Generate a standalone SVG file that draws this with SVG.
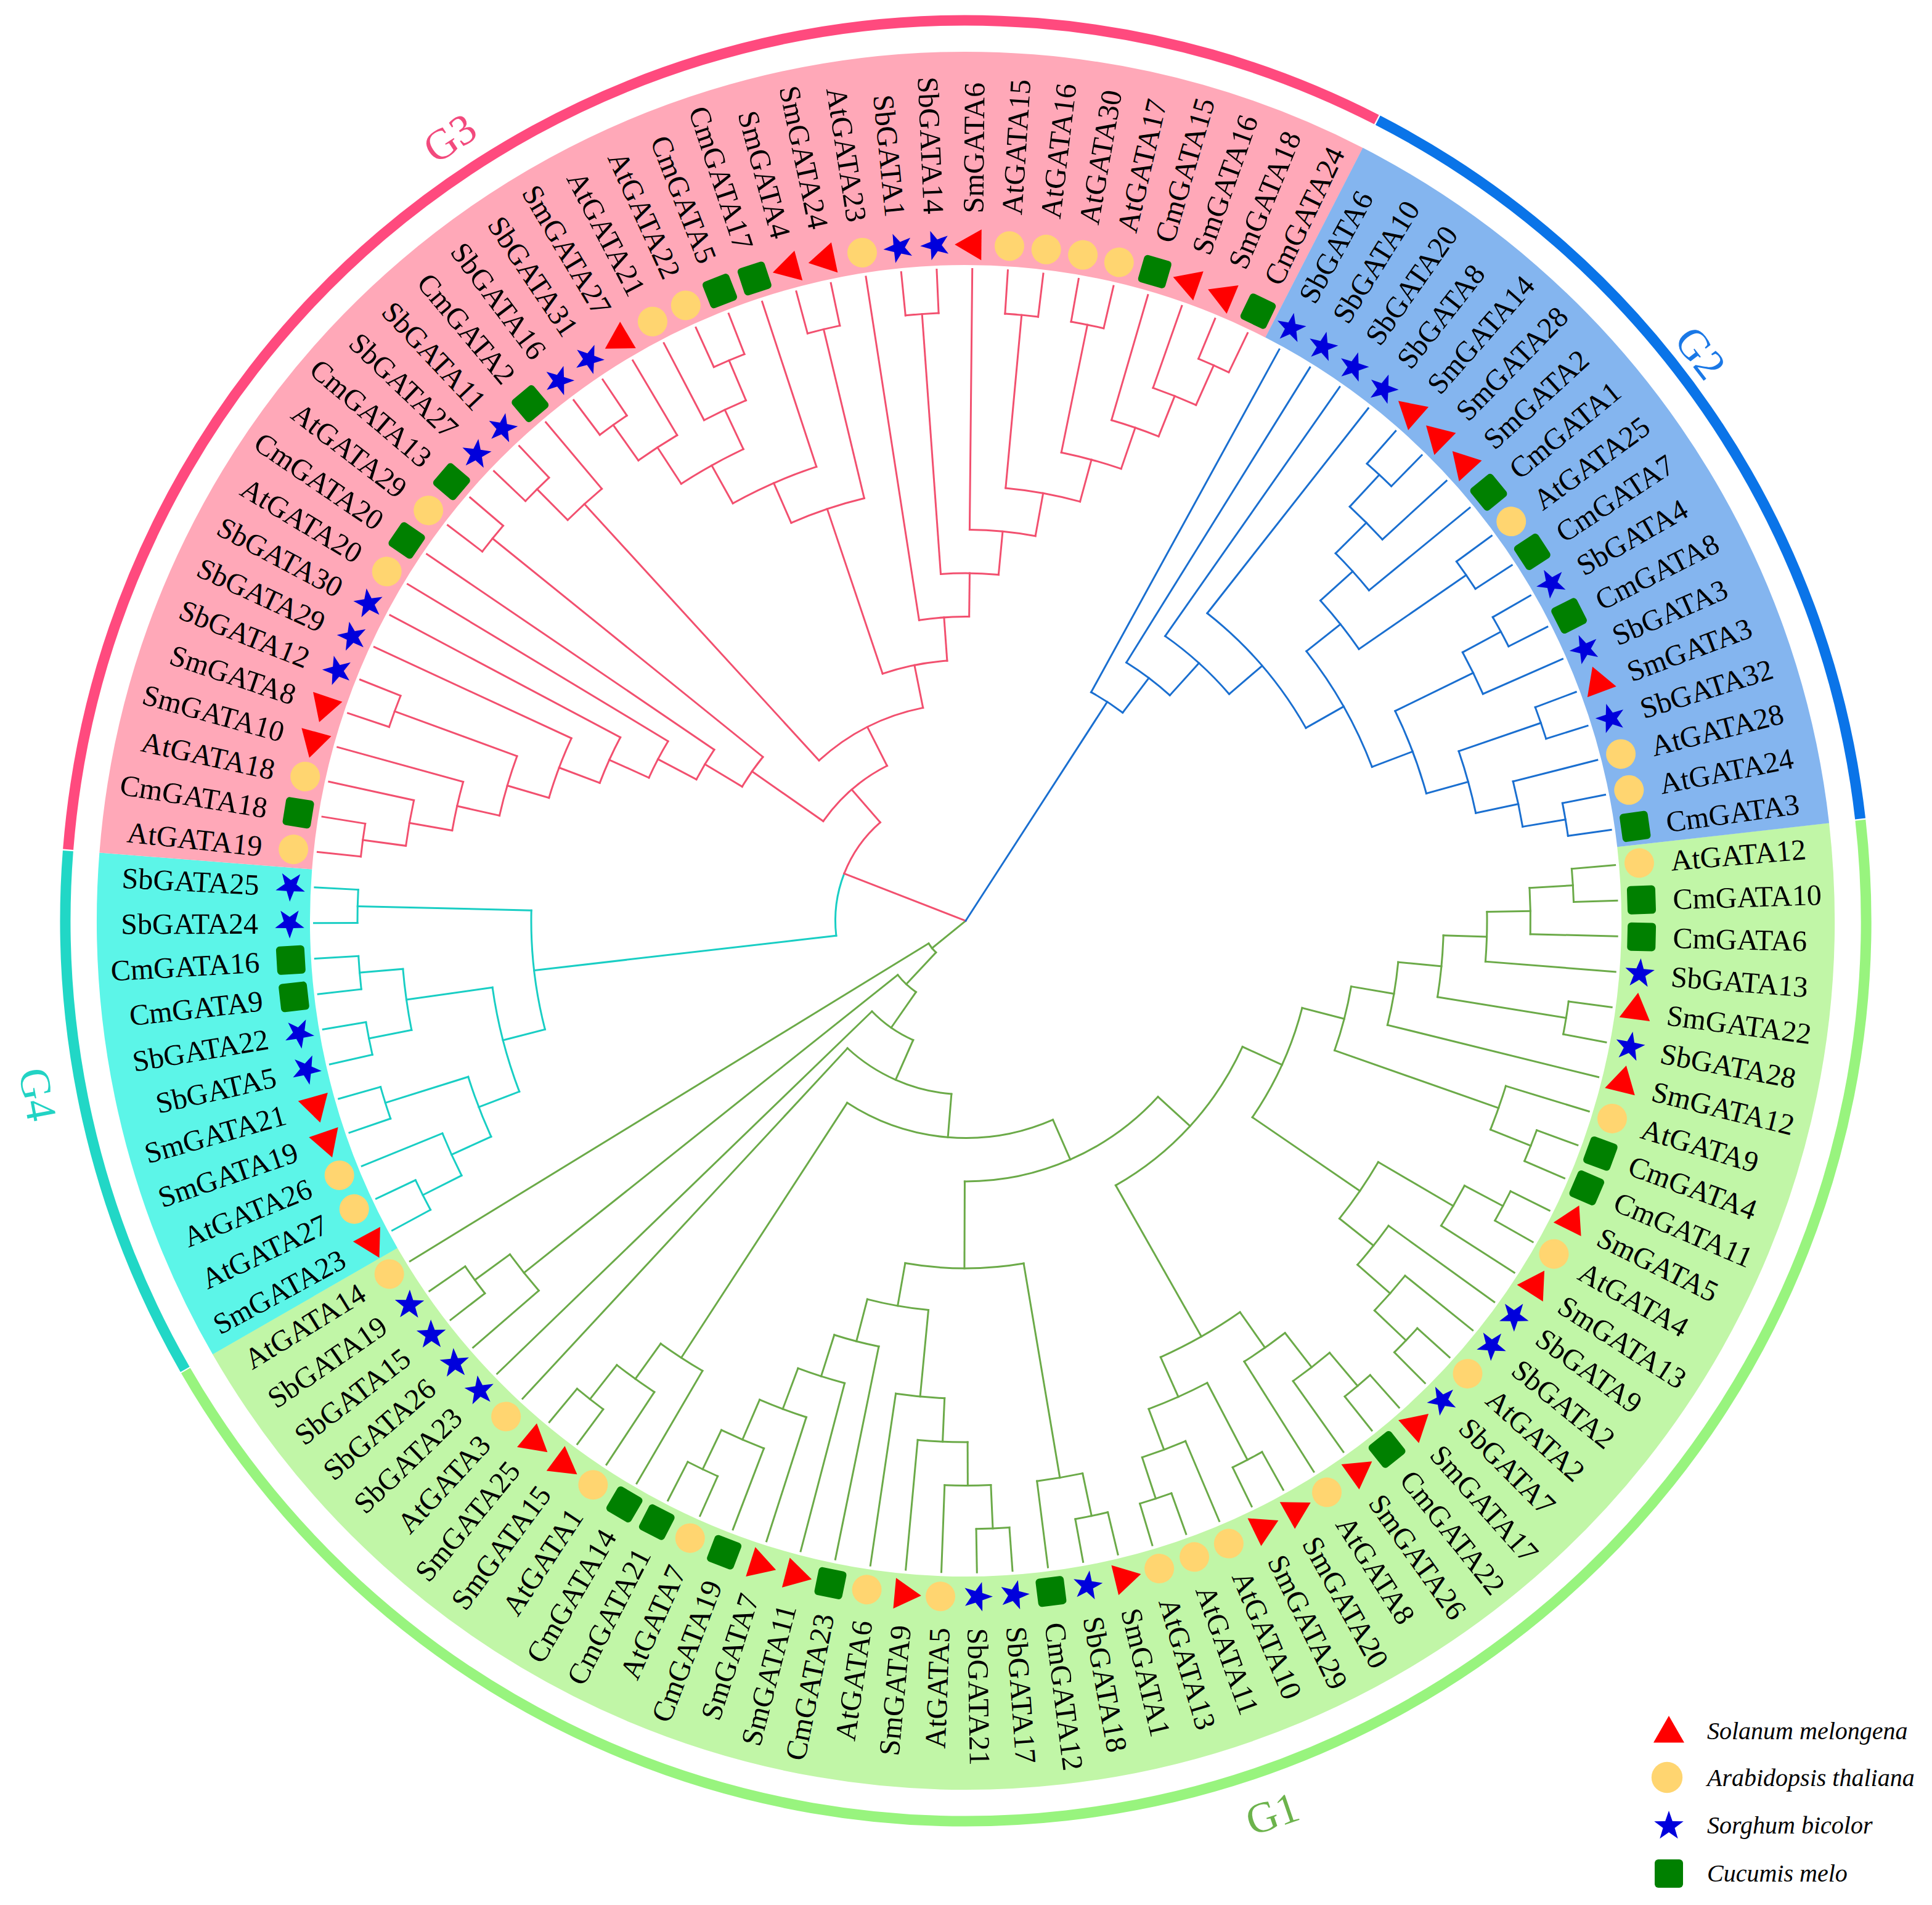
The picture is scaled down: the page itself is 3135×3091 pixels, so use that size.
<svg xmlns="http://www.w3.org/2000/svg" xmlns:xlink="http://www.w3.org/1999/xlink" width="3135" height="3091" viewBox="0 0 3135 3091">
<style>
.lv text{font-family:"Liberation Serif","Times New Roman",serif;font-size:48px;fill:#000}
.e{text-anchor:end}
.tr line,.tr circle{fill:none;stroke-width:3;stroke-linecap:square}
.c1{stroke:#6BAA48}.c2{stroke:#1A6FD0}.c3{stroke:#F2506F}.c4{stroke:#19CEC4}
.gl{font-family:"Liberation Serif","Times New Roman",serif;font-size:70px;text-anchor:middle}
.lg{font-family:"Liberation Serif","Times New Roman",serif;font-size:40px;font-style:italic;fill:#000}
.band{fill:none;stroke-width:346}
.ring{fill:none;stroke-width:17}
</style>
<defs>
<path id="tri" d="M0,-28.9L25,14.4L-25,14.4Z" fill="#FF0000"/>
<circle id="ci" r="24" fill="#FFD570"/>
<path id="st" d="M0,-25L5.88,-8.09L23.78,-7.73L9.51,3.09L14.69,20.23L0,10L-14.69,20.23L-9.51,3.09L-23.78,-7.73L-5.88,-8.09Z" fill="#0000DC"/>
<rect id="sq" x="-23" y="-23" width="46" height="46" rx="6" fill="#008000"/>
</defs>
<rect width="3135" height="3091" fill="#fff"/>
<g transform="translate(1567,1494)">
<g id="bands">
<circle class="band" r="1237" stroke="#C1F6A7" transform="rotate(-6.465)" stroke-dasharray="3379.4 99999"/>
<circle class="band" r="1237" stroke="#5CF5E8" transform="rotate(150.065)" stroke-dasharray="743.3 99999"/>
<circle class="band" r="1237" stroke="#FFA8B8" transform="rotate(184.495)" stroke-dasharray="2433.2 99999"/>
<circle class="band" r="1237" stroke="#84B5EF" transform="rotate(297.195)" stroke-dasharray="1216.4 99999"/>
</g>
<g id="rings">
<circle class="ring" r="1461" stroke="#98F47E" transform="rotate(-6.415)" stroke-dasharray="3988.9 99999"/>
<circle class="ring" r="1461" stroke="#21D7C6" transform="rotate(150.115)" stroke-dasharray="875.4 99999"/>
<circle class="ring" r="1461" stroke="#FF4A7E" transform="rotate(184.545)" stroke-dasharray="2871.2 99999"/>
<circle class="ring" r="1461" stroke="#0A74E8" transform="rotate(297.245)" stroke-dasharray="1434.1 99999"/>
</g>
<g id="group-labels" class="gl">
<text fill="#F24A7D" transform="rotate(326.6)" x="0" y="-1522" dy=".35em">G3</text>
<text fill="#1A78E6" transform="rotate(52.3)" x="0" y="-1508" dy=".35em">G2</text>
<text fill="#6CB34C" transform="rotate(-18.95)" x="0" y="1531" dy=".35em">G1</text>
<text fill="#22D3C4" transform="rotate(79.4)" x="0" y="1531" dy=".35em">G4</text>
</g>
<g id="connectors" class="tr">
<g id="branches-G1" class="c1">
<circle r="987" transform="rotate(-4.9)" stroke-dasharray="53.9 9999"/>
<circle r="916.5" transform="rotate(-3.335)" stroke-dasharray="75.1 9999"/>
<circle r="846" transform="rotate(-0.99)" stroke-dasharray="80.91 9999"/>
<circle r="987" transform="rotate(7.62)" stroke-dasharray="53.9 9999"/>
<circle r="775.5" transform="rotate(1.75)" stroke-dasharray="100.63 9999"/>
<circle r="705" transform="rotate(5.47)" stroke-dasharray="103.48 9999"/>
<circle r="987" transform="rotate(20.14)" stroke-dasharray="53.9 9999"/>
<circle r="916.5" transform="rotate(17.01)" stroke-dasharray="75.1 9999"/>
<circle r="634.5" transform="rotate(9.675)" stroke-dasharray="107.25 9999"/>
<circle r="987" transform="rotate(26.4)" stroke-dasharray="53.9 9999"/>
<circle r="916.5" transform="rotate(27.965)" stroke-dasharray="75.26 9999"/>
<circle r="987" transform="rotate(42.06)" stroke-dasharray="53.9 9999"/>
<circle r="916.5" transform="rotate(38.93)" stroke-dasharray="75.1 9999"/>
<circle r="846" transform="rotate(35.8)" stroke-dasharray="80.91 9999"/>
<circle r="775.5" transform="rotate(30.32)" stroke-dasharray="111.26 9999"/>
<circle r="564" transform="rotate(14.52)" stroke-dasharray="195.99 9999"/>
<circle r="987" transform="rotate(48.32)" stroke-dasharray="53.9 9999"/>
<circle r="916.5" transform="rotate(49.885)" stroke-dasharray="75.1 9999"/>
<circle r="846" transform="rotate(52.23)" stroke-dasharray="80.91 9999"/>
<circle r="987" transform="rotate(60.84)" stroke-dasharray="53.9 9999"/>
<circle r="987" transform="rotate(70.23)" stroke-dasharray="53.9 9999"/>
<circle r="916.5" transform="rotate(67.1)" stroke-dasharray="75.1 9999"/>
<circle r="846" transform="rotate(62.405)" stroke-dasharray="104.02 9999"/>
<circle r="775.5" transform="rotate(54.97)" stroke-dasharray="148.34 9999"/>
<circle r="493.5" transform="rotate(24.475)" stroke-dasharray="309.86 9999"/>
<circle r="987" transform="rotate(76.49)" stroke-dasharray="53.9 9999"/>
<circle r="916.5" transform="rotate(78.055)" stroke-dasharray="75.1 9999"/>
<circle r="987" transform="rotate(85.88)" stroke-dasharray="53.9 9999"/>
<circle r="916.5" transform="rotate(87.445)" stroke-dasharray="75.1 9999"/>
<circle r="846" transform="rotate(89.79)" stroke-dasharray="81.06 9999"/>
<circle r="775.5" transform="rotate(92.535)" stroke-dasharray="79.52 9999"/>
<circle r="987" transform="rotate(114.06)" stroke-dasharray="53.9 9999"/>
<circle r="916.5" transform="rotate(110.93)" stroke-dasharray="75.1 9999"/>
<circle r="846" transform="rotate(107.8)" stroke-dasharray="80.91 9999"/>
<circle r="775.5" transform="rotate(104.67)" stroke-dasharray="79.45 9999"/>
<circle r="705" transform="rotate(101.54)" stroke-dasharray="74.63 9999"/>
<circle r="634.5" transform="rotate(95.47)" stroke-dasharray="100.77 9999"/>
<circle r="564" transform="rotate(80.4)" stroke-dasharray="193.13 9999"/>
<circle r="423" transform="rotate(42.46)" stroke-dasharray="352.52 9999"/>
<circle r="987" transform="rotate(126.58)" stroke-dasharray="53.9 9999"/>
<circle r="916.5" transform="rotate(123.45)" stroke-dasharray="75.1 9999"/>
<circle r="846" transform="rotate(120.32)" stroke-dasharray="80.91 9999"/>
<circle r="352.5" transform="rotate(66.335)" stroke-dasharray="348.99 9999"/>
<circle r="282" transform="rotate(94.7)" stroke-dasharray="187.72 9999"/>
<circle r="211.5" transform="rotate(113.77)" stroke-dasharray="81.95 9999"/>
<circle r="987" transform="rotate(142.23)" stroke-dasharray="54.1 9999"/>
<circle r="916.5" transform="rotate(139.1)" stroke-dasharray="75.18 9999"/>
<circle r="141" transform="rotate(124.87)" stroke-dasharray="40.8 9999"/>
<circle r="70.5" transform="rotate(133.16)" stroke-dasharray="18.88 9999"/>
<line transform="rotate(-4.9)" x1="987" x2="1057.5"/>
<line transform="rotate(-1.77)" x1="987" x2="1057.5"/>
<line transform="rotate(1.36)" x1="916.5" x2="1057.5"/>
<line transform="rotate(4.49)" x1="846" x2="1057.5"/>
<line transform="rotate(7.62)" x1="987" x2="1057.5"/>
<line transform="rotate(10.75)" x1="987" x2="1057.5"/>
<line transform="rotate(13.88)" x1="705" x2="1057.5"/>
<line transform="rotate(17.01)" x1="916.5" x2="1057.5"/>
<line transform="rotate(20.14)" x1="987" x2="1057.5"/>
<line transform="rotate(23.27)" x1="987" x2="1057.5"/>
<line transform="rotate(26.4)" x1="987" x2="1057.5"/>
<line transform="rotate(29.53)" x1="987" x2="1057.5"/>
<line transform="rotate(32.67)" x1="916.5" x2="1057.5"/>
<line transform="rotate(35.8)" x1="846" x2="1057.5"/>
<line transform="rotate(38.93)" x1="916.5" x2="1057.5"/>
<line transform="rotate(42.06)" x1="987" x2="1057.5"/>
<line transform="rotate(45.19)" x1="987" x2="1057.5"/>
<line transform="rotate(48.32)" x1="987" x2="1057.5"/>
<line transform="rotate(51.45)" x1="987" x2="1057.5"/>
<line transform="rotate(54.58)" x1="916.5" x2="1057.5"/>
<line transform="rotate(57.71)" x1="846" x2="1057.5"/>
<line transform="rotate(60.84)" x1="987" x2="1057.5"/>
<line transform="rotate(63.97)" x1="987" x2="1057.5"/>
<line transform="rotate(67.1)" x1="916.5" x2="1057.5"/>
<line transform="rotate(70.23)" x1="987" x2="1057.5"/>
<line transform="rotate(73.36)" x1="987" x2="1057.5"/>
<line transform="rotate(76.49)" x1="987" x2="1057.5"/>
<line transform="rotate(79.62)" x1="987" x2="1057.5"/>
<line transform="rotate(82.75)" x1="916.5" x2="1057.5"/>
<line transform="rotate(85.88)" x1="987" x2="1057.5"/>
<line transform="rotate(89.01)" x1="987" x2="1057.5"/>
<line transform="rotate(92.14)" x1="916.5" x2="1057.5"/>
<line transform="rotate(95.28)" x1="846" x2="1057.5"/>
<line transform="rotate(98.41)" x1="775.5" x2="1057.5"/>
<line transform="rotate(101.54)" x1="705" x2="1057.5"/>
<line transform="rotate(104.67)" x1="775.5" x2="1057.5"/>
<line transform="rotate(107.8)" x1="846" x2="1057.5"/>
<line transform="rotate(110.93)" x1="916.5" x2="1057.5"/>
<line transform="rotate(114.06)" x1="987" x2="1057.5"/>
<line transform="rotate(117.19)" x1="987" x2="1057.5"/>
<line transform="rotate(120.32)" x1="846" x2="1057.5"/>
<line transform="rotate(123.45)" x1="916.5" x2="1057.5"/>
<line transform="rotate(126.58)" x1="987" x2="1057.5"/>
<line transform="rotate(129.71)" x1="987" x2="1057.5"/>
<line transform="rotate(132.84)" x1="282" x2="1057.5"/>
<line transform="rotate(135.97)" x1="211.5" x2="1057.5"/>
<line transform="rotate(139.1)" x1="916.5" x2="1057.5"/>
<line transform="rotate(142.23)" x1="987" x2="1057.5"/>
<line transform="rotate(145.37)" x1="987" x2="1057.5"/>
<line transform="rotate(148.5)" x1="70.5" x2="1057.5"/>
<line transform="rotate(-3.335)" x1="916.5" x2="987"/>
<line transform="rotate(-0.99)" x1="846" x2="916.5"/>
<line transform="rotate(1.75)" x1="775.5" x2="846"/>
<line transform="rotate(9.185)" x1="775.5" x2="987"/>
<line transform="rotate(5.47)" x1="705" x2="775.5"/>
<line transform="rotate(9.675)" x1="634.5" x2="705"/>
<line transform="rotate(21.705)" x1="916.5" x2="987"/>
<line transform="rotate(19.36)" x1="634.5" x2="916.5"/>
<line transform="rotate(14.52)" x1="564" x2="634.5"/>
<line transform="rotate(27.965)" x1="916.5" x2="987"/>
<line transform="rotate(30.32)" x1="775.5" x2="916.5"/>
<line transform="rotate(43.625)" x1="916.5" x2="987"/>
<line transform="rotate(41.28)" x1="846" x2="916.5"/>
<line transform="rotate(38.54)" x1="775.5" x2="846"/>
<line transform="rotate(34.43)" x1="564" x2="775.5"/>
<line transform="rotate(24.475)" x1="493.5" x2="564"/>
<line transform="rotate(49.885)" x1="916.5" x2="987"/>
<line transform="rotate(52.23)" x1="846" x2="916.5"/>
<line transform="rotate(54.97)" x1="775.5" x2="846"/>
<line transform="rotate(62.405)" x1="846" x2="987"/>
<line transform="rotate(71.795)" x1="916.5" x2="987"/>
<line transform="rotate(69.45)" x1="846" x2="916.5"/>
<line transform="rotate(65.93)" x1="775.5" x2="846"/>
<line transform="rotate(60.45)" x1="493.5" x2="775.5"/>
<line transform="rotate(42.46)" x1="423" x2="493.5"/>
<line transform="rotate(78.055)" x1="916.5" x2="987"/>
<line transform="rotate(80.4)" x1="564" x2="916.5"/>
<line transform="rotate(87.445)" x1="916.5" x2="987"/>
<line transform="rotate(89.79)" x1="846" x2="916.5"/>
<line transform="rotate(92.535)" x1="775.5" x2="846"/>
<line transform="rotate(95.47)" x1="634.5" x2="775.5"/>
<line transform="rotate(115.625)" x1="916.5" x2="987"/>
<line transform="rotate(113.28)" x1="846" x2="916.5"/>
<line transform="rotate(110.54)" x1="775.5" x2="846"/>
<line transform="rotate(107.605)" x1="705" x2="775.5"/>
<line transform="rotate(104.57)" x1="634.5" x2="705"/>
<line transform="rotate(100.02)" x1="564" x2="634.5"/>
<line transform="rotate(90.21)" x1="423" x2="564"/>
<line transform="rotate(66.335)" x1="352.5" x2="423"/>
<line transform="rotate(128.145)" x1="916.5" x2="987"/>
<line transform="rotate(125.8)" x1="846" x2="916.5"/>
<line transform="rotate(123.06)" x1="352.5" x2="846"/>
<line transform="rotate(94.7)" x1="282" x2="352.5"/>
<line transform="rotate(113.77)" x1="211.5" x2="282"/>
<line transform="rotate(124.87)" x1="141" x2="211.5"/>
<line transform="rotate(143.8)" x1="916.5" x2="987"/>
<line transform="rotate(141.45)" x1="141" x2="916.5"/>
<line transform="rotate(133.16)" x1="70.5" x2="141"/>
<line transform="rotate(140.83)" x1="0" x2="70.5"/>
</g>
<g id="branches-G4" class="c4">
<circle r="987" transform="rotate(151.63)" stroke-dasharray="53.9 9999"/>
<circle r="916.5" transform="rotate(153.195)" stroke-dasharray="75.1 9999"/>
<circle r="987" transform="rotate(161.02)" stroke-dasharray="53.9 9999"/>
<circle r="846" transform="rotate(155.54)" stroke-dasharray="104.02 9999"/>
<circle r="987" transform="rotate(167.28)" stroke-dasharray="53.9 9999"/>
<circle r="987" transform="rotate(173.54)" stroke-dasharray="53.9 9999"/>
<circle r="916.5" transform="rotate(168.845)" stroke-dasharray="100.13 9999"/>
<circle r="775.5" transform="rotate(159.06)" stroke-dasharray="174.8 9999"/>
<circle r="987" transform="rotate(179.8)" stroke-dasharray="53.9 9999"/>
<circle r="705" transform="rotate(165.52)" stroke-dasharray="194.97 9999"/>
<circle r="211.5" transform="rotate(173.44)" stroke-dasharray="102.58 9999"/>
<line transform="rotate(151.63)" x1="987" x2="1057.5"/>
<line transform="rotate(154.76)" x1="987" x2="1057.5"/>
<line transform="rotate(157.89)" x1="916.5" x2="1057.5"/>
<line transform="rotate(161.02)" x1="987" x2="1057.5"/>
<line transform="rotate(164.15)" x1="987" x2="1057.5"/>
<line transform="rotate(167.28)" x1="987" x2="1057.5"/>
<line transform="rotate(170.41)" x1="987" x2="1057.5"/>
<line transform="rotate(173.54)" x1="987" x2="1057.5"/>
<line transform="rotate(176.67)" x1="987" x2="1057.5"/>
<line transform="rotate(179.8)" x1="987" x2="1057.5"/>
<line transform="rotate(182.93)" x1="987" x2="1057.5"/>
<line transform="rotate(153.195)" x1="916.5" x2="987"/>
<line transform="rotate(155.54)" x1="846" x2="916.5"/>
<line transform="rotate(162.585)" x1="846" x2="987"/>
<line transform="rotate(159.06)" x1="775.5" x2="846"/>
<line transform="rotate(168.845)" x1="916.5" x2="987"/>
<line transform="rotate(175.105)" x1="916.5" x2="987"/>
<line transform="rotate(171.975)" x1="775.5" x2="916.5"/>
<line transform="rotate(165.52)" x1="705" x2="775.5"/>
<line transform="rotate(181.365)" x1="705" x2="987"/>
<line transform="rotate(173.44)" x1="211.5" x2="705"/>
</g>
<g id="branches-G3" class="c3">
<circle r="987" transform="rotate(186.06)" stroke-dasharray="53.9 9999"/>
<circle r="916.5" transform="rotate(187.625)" stroke-dasharray="75.1 9999"/>
<circle r="846" transform="rotate(189.97)" stroke-dasharray="80.91 9999"/>
<circle r="987" transform="rotate(198.58)" stroke-dasharray="53.9 9999"/>
<circle r="775.5" transform="rotate(192.71)" stroke-dasharray="100.63 9999"/>
<circle r="705" transform="rotate(196.43)" stroke-dasharray="103.48 9999"/>
<circle r="634.5" transform="rotate(200.635)" stroke-dasharray="81.23 9999"/>
<circle r="564" transform="rotate(204.3)" stroke-dasharray="66.94 9999"/>
<circle r="493.5" transform="rotate(207.7)" stroke-dasharray="56.24 9999"/>
<circle r="987" transform="rotate(217.37)" stroke-dasharray="53.9 9999"/>
<circle r="423" transform="rotate(210.965)" stroke-dasharray="58.84 9999"/>
<circle r="987" transform="rotate(223.63)" stroke-dasharray="53.9 9999"/>
<circle r="916.5" transform="rotate(225.195)" stroke-dasharray="75.1 9999"/>
<circle r="987" transform="rotate(233.02)" stroke-dasharray="53.9 9999"/>
<circle r="916.5" transform="rotate(234.585)" stroke-dasharray="75.1 9999"/>
<circle r="987" transform="rotate(245.54)" stroke-dasharray="53.9 9999"/>
<circle r="916.5" transform="rotate(242.41)" stroke-dasharray="75.1 9999"/>
<circle r="846" transform="rotate(236.93)" stroke-dasharray="115.61 9999"/>
<circle r="775.5" transform="rotate(240.845)" stroke-dasharray="148.28 9999"/>
<circle r="987" transform="rotate(254.93)" stroke-dasharray="53.9 9999"/>
<circle r="705" transform="rotate(246.32)" stroke-dasharray="125.2 9999"/>
<circle r="987" transform="rotate(264.32)" stroke-dasharray="53.9 9999"/>
<circle r="987" transform="rotate(273.71)" stroke-dasharray="53.9 9999"/>
<circle r="987" transform="rotate(279.98)" stroke-dasharray="53.9 9999"/>
<circle r="987" transform="rotate(292.5)" stroke-dasharray="53.9 9999"/>
<circle r="916.5" transform="rotate(289.37)" stroke-dasharray="75.1 9999"/>
<circle r="846" transform="rotate(286.24)" stroke-dasharray="80.91 9999"/>
<circle r="775.5" transform="rotate(281.545)" stroke-dasharray="100.63 9999"/>
<circle r="705" transform="rotate(275.275)" stroke-dasharray="122.86 9999"/>
<circle r="634.5" transform="rotate(270.58)" stroke-dasharray="107.31 9999"/>
<circle r="564" transform="rotate(265.885)" stroke-dasharray="93.91 9999"/>
<circle r="493.5" transform="rotate(261.19)" stroke-dasharray="81.52 9999"/>
<circle r="423" transform="rotate(251.41)" stroke-dasharray="107.12 9999"/>
<circle r="352.5" transform="rotate(227.54)" stroke-dasharray="191.49 9999"/>
<circle r="282" transform="rotate(214.95)" stroke-dasharray="138.55 9999"/>
<circle r="211.5" transform="rotate(201.23)" stroke-dasharray="102.6 9999"/>
<line transform="rotate(186.06)" x1="987" x2="1057.5"/>
<line transform="rotate(189.19)" x1="987" x2="1057.5"/>
<line transform="rotate(192.32)" x1="916.5" x2="1057.5"/>
<line transform="rotate(195.45)" x1="846" x2="1057.5"/>
<line transform="rotate(198.58)" x1="987" x2="1057.5"/>
<line transform="rotate(201.71)" x1="987" x2="1057.5"/>
<line transform="rotate(204.84)" x1="705" x2="1057.5"/>
<line transform="rotate(207.97)" x1="634.5" x2="1057.5"/>
<line transform="rotate(211.1)" x1="564" x2="1057.5"/>
<line transform="rotate(214.23)" x1="493.5" x2="1057.5"/>
<line transform="rotate(217.37)" x1="987" x2="1057.5"/>
<line transform="rotate(220.5)" x1="987" x2="1057.5"/>
<line transform="rotate(223.63)" x1="987" x2="1057.5"/>
<line transform="rotate(226.76)" x1="987" x2="1057.5"/>
<line transform="rotate(229.89)" x1="916.5" x2="1057.5"/>
<line transform="rotate(233.02)" x1="987" x2="1057.5"/>
<line transform="rotate(236.15)" x1="987" x2="1057.5"/>
<line transform="rotate(239.28)" x1="916.5" x2="1057.5"/>
<line transform="rotate(242.41)" x1="916.5" x2="1057.5"/>
<line transform="rotate(245.54)" x1="987" x2="1057.5"/>
<line transform="rotate(248.67)" x1="987" x2="1057.5"/>
<line transform="rotate(251.8)" x1="775.5" x2="1057.5"/>
<line transform="rotate(254.93)" x1="987" x2="1057.5"/>
<line transform="rotate(258.06)" x1="987" x2="1057.5"/>
<line transform="rotate(261.19)" x1="493.5" x2="1057.5"/>
<line transform="rotate(264.32)" x1="987" x2="1057.5"/>
<line transform="rotate(267.45)" x1="987" x2="1057.5"/>
<line transform="rotate(270.58)" x1="634.5" x2="1057.5"/>
<line transform="rotate(273.71)" x1="987" x2="1057.5"/>
<line transform="rotate(276.84)" x1="987" x2="1057.5"/>
<line transform="rotate(279.98)" x1="987" x2="1057.5"/>
<line transform="rotate(283.11)" x1="987" x2="1057.5"/>
<line transform="rotate(286.24)" x1="846" x2="1057.5"/>
<line transform="rotate(289.37)" x1="916.5" x2="1057.5"/>
<line transform="rotate(292.5)" x1="987" x2="1057.5"/>
<line transform="rotate(295.63)" x1="987" x2="1057.5"/>
<line transform="rotate(187.625)" x1="916.5" x2="987"/>
<line transform="rotate(189.97)" x1="846" x2="916.5"/>
<line transform="rotate(192.71)" x1="775.5" x2="846"/>
<line transform="rotate(200.145)" x1="775.5" x2="987"/>
<line transform="rotate(196.43)" x1="705" x2="775.5"/>
<line transform="rotate(200.635)" x1="634.5" x2="705"/>
<line transform="rotate(204.3)" x1="564" x2="634.5"/>
<line transform="rotate(207.7)" x1="493.5" x2="564"/>
<line transform="rotate(210.965)" x1="423" x2="493.5"/>
<line transform="rotate(218.935)" x1="423" x2="987"/>
<line transform="rotate(214.95)" x1="282" x2="423"/>
<line transform="rotate(225.195)" x1="916.5" x2="987"/>
<line transform="rotate(227.54)" x1="352.5" x2="916.5"/>
<line transform="rotate(234.585)" x1="916.5" x2="987"/>
<line transform="rotate(236.93)" x1="846" x2="916.5"/>
<line transform="rotate(247.105)" x1="916.5" x2="987"/>
<line transform="rotate(244.76)" x1="846" x2="916.5"/>
<line transform="rotate(240.845)" x1="775.5" x2="846"/>
<line transform="rotate(246.32)" x1="705" x2="775.5"/>
<line transform="rotate(256.495)" x1="705" x2="987"/>
<line transform="rotate(251.41)" x1="423" x2="705"/>
<line transform="rotate(265.885)" x1="564" x2="987"/>
<line transform="rotate(275.275)" x1="705" x2="987"/>
<line transform="rotate(281.545)" x1="775.5" x2="987"/>
<line transform="rotate(294.065)" x1="916.5" x2="987"/>
<line transform="rotate(291.72)" x1="846" x2="916.5"/>
<line transform="rotate(288.98)" x1="775.5" x2="846"/>
<line transform="rotate(285.26)" x1="705" x2="775.5"/>
<line transform="rotate(280.27)" x1="634.5" x2="705"/>
<line transform="rotate(275.425)" x1="564" x2="634.5"/>
<line transform="rotate(270.655)" x1="493.5" x2="564"/>
<line transform="rotate(265.92)" x1="423" x2="493.5"/>
<line transform="rotate(258.665)" x1="352.5" x2="423"/>
<line transform="rotate(243.1)" x1="282" x2="352.5"/>
<line transform="rotate(229.025)" x1="211.5" x2="282"/>
<line transform="rotate(201.23)" x1="0" x2="211.5"/>
</g>
<g id="branches-G2" class="c2">
<circle r="987" transform="rotate(311.28)" stroke-dasharray="53.9 9999"/>
<circle r="916.5" transform="rotate(312.845)" stroke-dasharray="75.1 9999"/>
<circle r="846" transform="rotate(315.19)" stroke-dasharray="80.91 9999"/>
<circle r="987" transform="rotate(323.8)" stroke-dasharray="53.9 9999"/>
<circle r="775.5" transform="rotate(317.93)" stroke-dasharray="100.63 9999"/>
<circle r="987" transform="rotate(330.06)" stroke-dasharray="53.9 9999"/>
<circle r="916.5" transform="rotate(331.625)" stroke-dasharray="75.1 9999"/>
<circle r="987" transform="rotate(339.45)" stroke-dasharray="54.1 9999"/>
<circle r="987" transform="rotate(348.85)" stroke-dasharray="53.9 9999"/>
<circle r="916.5" transform="rotate(345.72)" stroke-dasharray="75.1 9999"/>
<circle r="846" transform="rotate(341.02)" stroke-dasharray="104.1 9999"/>
<circle r="775.5" transform="rotate(333.97)" stroke-dasharray="143.13 9999"/>
<circle r="705" transform="rotate(321.65)" stroke-dasharray="216.68 9999"/>
<circle r="634.5" transform="rotate(308.15)" stroke-dasharray="247.01 9999"/>
<circle r="564" transform="rotate(305.02)" stroke-dasharray="140.57 9999"/>
<circle r="493.5" transform="rotate(301.89)" stroke-dasharray="88.46 9999"/>
<circle r="423" transform="rotate(298.76)" stroke-dasharray="61.02 9999"/>
<line transform="rotate(298.76)" x1="423" x2="1057.5"/>
<line transform="rotate(301.89)" x1="493.5" x2="1057.5"/>
<line transform="rotate(305.02)" x1="564" x2="1057.5"/>
<line transform="rotate(308.15)" x1="634.5" x2="1057.5"/>
<line transform="rotate(311.28)" x1="987" x2="1057.5"/>
<line transform="rotate(314.41)" x1="987" x2="1057.5"/>
<line transform="rotate(317.54)" x1="916.5" x2="1057.5"/>
<line transform="rotate(320.67)" x1="846" x2="1057.5"/>
<line transform="rotate(323.8)" x1="987" x2="1057.5"/>
<line transform="rotate(326.93)" x1="987" x2="1057.5"/>
<line transform="rotate(330.06)" x1="987" x2="1057.5"/>
<line transform="rotate(333.19)" x1="987" x2="1057.5"/>
<line transform="rotate(336.32)" x1="916.5" x2="1057.5"/>
<line transform="rotate(339.45)" x1="987" x2="1057.5"/>
<line transform="rotate(342.59)" x1="987" x2="1057.5"/>
<line transform="rotate(345.72)" x1="916.5" x2="1057.5"/>
<line transform="rotate(348.85)" x1="987" x2="1057.5"/>
<line transform="rotate(351.98)" x1="987" x2="1057.5"/>
<line transform="rotate(312.845)" x1="916.5" x2="987"/>
<line transform="rotate(315.19)" x1="846" x2="916.5"/>
<line transform="rotate(317.93)" x1="775.5" x2="846"/>
<line transform="rotate(325.365)" x1="775.5" x2="987"/>
<line transform="rotate(321.65)" x1="705" x2="775.5"/>
<line transform="rotate(331.625)" x1="916.5" x2="987"/>
<line transform="rotate(333.97)" x1="775.5" x2="916.5"/>
<line transform="rotate(341.02)" x1="846" x2="987"/>
<line transform="rotate(350.415)" x1="916.5" x2="987"/>
<line transform="rotate(348.07)" x1="846" x2="916.5"/>
<line transform="rotate(344.545)" x1="775.5" x2="846"/>
<line transform="rotate(339.26)" x1="705" x2="775.5"/>
<line transform="rotate(330.455)" x1="634.5" x2="705"/>
<line transform="rotate(319.3)" x1="564" x2="634.5"/>
<line transform="rotate(312.16)" x1="493.5" x2="564"/>
<line transform="rotate(307.025)" x1="423" x2="493.5"/>
<line transform="rotate(302.89)" x1="0" x2="423"/>
</g>
</g>
<g id="leaves" class="lv">
<g id="leaf-AtGATA12" transform="rotate(-4.9)"><use href="#ci" x="1097"/><text x="1148" dy=".35em">AtGATA12</text></g>
<g id="leaf-CmGATA10" transform="rotate(-1.77)"><use href="#sq" x="1097"/><text x="1148" dy=".35em">CmGATA10</text></g>
<g id="leaf-CmGATA6" transform="rotate(1.36)"><use href="#sq" x="1097"/><text x="1148" dy=".35em">CmGATA6</text></g>
<g id="leaf-SbGATA13" transform="rotate(4.49)"><use href="#st" x="1097"/><text x="1148" dy=".35em">SbGATA13</text></g>
<g id="leaf-SmGATA22" transform="rotate(7.62)"><use href="#tri" x="1097"/><text x="1148" dy=".35em">SmGATA22</text></g>
<g id="leaf-SbGATA28" transform="rotate(10.75)"><use href="#st" x="1097"/><text x="1148" dy=".35em">SbGATA28</text></g>
<g id="leaf-SmGATA12" transform="rotate(13.88)"><use href="#tri" x="1097"/><text x="1148" dy=".35em">SmGATA12</text></g>
<g id="leaf-AtGATA9" transform="rotate(17.01)"><use href="#ci" x="1097"/><text x="1148" dy=".35em">AtGATA9</text></g>
<g id="leaf-CmGATA4" transform="rotate(20.14)"><use href="#sq" x="1097"/><text x="1148" dy=".35em">CmGATA4</text></g>
<g id="leaf-CmGATA11" transform="rotate(23.27)"><use href="#sq" x="1097"/><text x="1148" dy=".35em">CmGATA11</text></g>
<g id="leaf-SmGATA5" transform="rotate(26.4)"><use href="#tri" x="1097"/><text x="1148" dy=".35em">SmGATA5</text></g>
<g id="leaf-AtGATA4" transform="rotate(29.53)"><use href="#ci" x="1097"/><text x="1148" dy=".35em">AtGATA4</text></g>
<g id="leaf-SmGATA13" transform="rotate(32.67)"><use href="#tri" x="1097"/><text x="1148" dy=".35em">SmGATA13</text></g>
<g id="leaf-SbGATA9" transform="rotate(35.8)"><use href="#st" x="1097"/><text x="1148" dy=".35em">SbGATA9</text></g>
<g id="leaf-SbGATA2" transform="rotate(38.93)"><use href="#st" x="1097"/><text x="1148" dy=".35em">SbGATA2</text></g>
<g id="leaf-AtGATA2" transform="rotate(42.06)"><use href="#ci" x="1097"/><text x="1148" dy=".35em">AtGATA2</text></g>
<g id="leaf-SbGATA7" transform="rotate(45.19)"><use href="#st" x="1097"/><text x="1148" dy=".35em">SbGATA7</text></g>
<g id="leaf-SmGATA17" transform="rotate(48.32)"><use href="#tri" x="1097"/><text x="1148" dy=".35em">SmGATA17</text></g>
<g id="leaf-CmGATA22" transform="rotate(51.45)"><use href="#sq" x="1097"/><text x="1148" dy=".35em">CmGATA22</text></g>
<g id="leaf-SmGATA26" transform="rotate(54.58)"><use href="#tri" x="1097"/><text x="1148" dy=".35em">SmGATA26</text></g>
<g id="leaf-AtGATA8" transform="rotate(57.71)"><use href="#ci" x="1097"/><text x="1148" dy=".35em">AtGATA8</text></g>
<g id="leaf-SmGATA20" transform="rotate(60.84)"><use href="#tri" x="1097"/><text x="1148" dy=".35em">SmGATA20</text></g>
<g id="leaf-SmGATA29" transform="rotate(63.97)"><use href="#tri" x="1097"/><text x="1148" dy=".35em">SmGATA29</text></g>
<g id="leaf-AtGATA10" transform="rotate(67.1)"><use href="#ci" x="1097"/><text x="1148" dy=".35em">AtGATA10</text></g>
<g id="leaf-AtGATA11" transform="rotate(70.23)"><use href="#ci" x="1097"/><text x="1148" dy=".35em">AtGATA11</text></g>
<g id="leaf-AtGATA13" transform="rotate(73.36)"><use href="#ci" x="1097"/><text x="1148" dy=".35em">AtGATA13</text></g>
<g id="leaf-SmGATA1" transform="rotate(76.49)"><use href="#tri" x="1097"/><text x="1148" dy=".35em">SmGATA1</text></g>
<g id="leaf-SbGATA18" transform="rotate(79.62)"><use href="#st" x="1097"/><text x="1148" dy=".35em">SbGATA18</text></g>
<g id="leaf-CmGATA12" transform="rotate(82.75)"><use href="#sq" x="1097"/><text x="1148" dy=".35em">CmGATA12</text></g>
<g id="leaf-SbGATA17" transform="rotate(85.88)"><use href="#st" x="1097"/><text x="1148" dy=".35em">SbGATA17</text></g>
<g id="leaf-SbGATA21" transform="rotate(89.01)"><use href="#st" x="1097"/><text x="1148" dy=".35em">SbGATA21</text></g>
<g id="leaf-AtGATA5" transform="rotate(92.14)"><use href="#ci" x="1097"/><text class="e" transform="rotate(180)" x="-1148" dy=".35em">AtGATA5</text></g>
<g id="leaf-SmGATA9" transform="rotate(95.28)"><use href="#tri" x="1097"/><text class="e" transform="rotate(180)" x="-1148" dy=".35em">SmGATA9</text></g>
<g id="leaf-AtGATA6" transform="rotate(98.41)"><use href="#ci" x="1097"/><text class="e" transform="rotate(180)" x="-1148" dy=".35em">AtGATA6</text></g>
<g id="leaf-CmGATA23" transform="rotate(101.54)"><use href="#sq" x="1097"/><text class="e" transform="rotate(180)" x="-1148" dy=".35em">CmGATA23</text></g>
<g id="leaf-SmGATA11" transform="rotate(104.67)"><use href="#tri" x="1097"/><text class="e" transform="rotate(180)" x="-1148" dy=".35em">SmGATA11</text></g>
<g id="leaf-SmGATA7" transform="rotate(107.8)"><use href="#tri" x="1097"/><text class="e" transform="rotate(180)" x="-1148" dy=".35em">SmGATA7</text></g>
<g id="leaf-CmGATA19" transform="rotate(110.93)"><use href="#sq" x="1097"/><text class="e" transform="rotate(180)" x="-1148" dy=".35em">CmGATA19</text></g>
<g id="leaf-AtGATA7" transform="rotate(114.06)"><use href="#ci" x="1097"/><text class="e" transform="rotate(180)" x="-1148" dy=".35em">AtGATA7</text></g>
<g id="leaf-CmGATA21" transform="rotate(117.19)"><use href="#sq" x="1097"/><text class="e" transform="rotate(180)" x="-1148" dy=".35em">CmGATA21</text></g>
<g id="leaf-CmGATA14" transform="rotate(120.32)"><use href="#sq" x="1097"/><text class="e" transform="rotate(180)" x="-1148" dy=".35em">CmGATA14</text></g>
<g id="leaf-AtGATA1" transform="rotate(123.45)"><use href="#ci" x="1097"/><text class="e" transform="rotate(180)" x="-1148" dy=".35em">AtGATA1</text></g>
<g id="leaf-SmGATA15" transform="rotate(126.58)"><use href="#tri" x="1097"/><text class="e" transform="rotate(180)" x="-1148" dy=".35em">SmGATA15</text></g>
<g id="leaf-SmGATA25" transform="rotate(129.71)"><use href="#tri" x="1097"/><text class="e" transform="rotate(180)" x="-1148" dy=".35em">SmGATA25</text></g>
<g id="leaf-AtGATA3" transform="rotate(132.84)"><use href="#ci" x="1097"/><text class="e" transform="rotate(180)" x="-1148" dy=".35em">AtGATA3</text></g>
<g id="leaf-SbGATA23" transform="rotate(135.97)"><use href="#st" x="1097"/><text class="e" transform="rotate(180)" x="-1148" dy=".35em">SbGATA23</text></g>
<g id="leaf-SbGATA26" transform="rotate(139.1)"><use href="#st" x="1097"/><text class="e" transform="rotate(180)" x="-1148" dy=".35em">SbGATA26</text></g>
<g id="leaf-SbGATA15" transform="rotate(142.23)"><use href="#st" x="1097"/><text class="e" transform="rotate(180)" x="-1148" dy=".35em">SbGATA15</text></g>
<g id="leaf-SbGATA19" transform="rotate(145.37)"><use href="#st" x="1097"/><text class="e" transform="rotate(180)" x="-1148" dy=".35em">SbGATA19</text></g>
<g id="leaf-AtGATA14" transform="rotate(148.5)"><use href="#ci" x="1097"/><text class="e" transform="rotate(180)" x="-1148" dy=".35em">AtGATA14</text></g>
<g id="leaf-SmGATA23" transform="rotate(151.63)"><use href="#tri" x="1097"/><text class="e" transform="rotate(180)" x="-1148" dy=".35em">SmGATA23</text></g>
<g id="leaf-AtGATA27" transform="rotate(154.76)"><use href="#ci" x="1097"/><text class="e" transform="rotate(180)" x="-1148" dy=".35em">AtGATA27</text></g>
<g id="leaf-AtGATA26" transform="rotate(157.89)"><use href="#ci" x="1097"/><text class="e" transform="rotate(180)" x="-1148" dy=".35em">AtGATA26</text></g>
<g id="leaf-SmGATA19" transform="rotate(161.02)"><use href="#tri" x="1097"/><text class="e" transform="rotate(180)" x="-1148" dy=".35em">SmGATA19</text></g>
<g id="leaf-SmGATA21" transform="rotate(164.15)"><use href="#tri" x="1097"/><text class="e" transform="rotate(180)" x="-1148" dy=".35em">SmGATA21</text></g>
<g id="leaf-SbGATA5" transform="rotate(167.28)"><use href="#st" x="1097"/><text class="e" transform="rotate(180)" x="-1148" dy=".35em">SbGATA5</text></g>
<g id="leaf-SbGATA22" transform="rotate(170.41)"><use href="#st" x="1097"/><text class="e" transform="rotate(180)" x="-1148" dy=".35em">SbGATA22</text></g>
<g id="leaf-CmGATA9" transform="rotate(173.54)"><use href="#sq" x="1097"/><text class="e" transform="rotate(180)" x="-1148" dy=".35em">CmGATA9</text></g>
<g id="leaf-CmGATA16" transform="rotate(176.67)"><use href="#sq" x="1097"/><text class="e" transform="rotate(180)" x="-1148" dy=".35em">CmGATA16</text></g>
<g id="leaf-SbGATA24" transform="rotate(179.8)"><use href="#st" x="1097"/><text class="e" transform="rotate(180)" x="-1148" dy=".35em">SbGATA24</text></g>
<g id="leaf-SbGATA25" transform="rotate(182.93)"><use href="#st" x="1097"/><text class="e" transform="rotate(180)" x="-1148" dy=".35em">SbGATA25</text></g>
<g id="leaf-AtGATA19" transform="rotate(186.06)"><use href="#ci" x="1097"/><text class="e" transform="rotate(180)" x="-1148" dy=".35em">AtGATA19</text></g>
<g id="leaf-CmGATA18" transform="rotate(189.19)"><use href="#sq" x="1097"/><text class="e" transform="rotate(180)" x="-1148" dy=".35em">CmGATA18</text></g>
<g id="leaf-AtGATA18" transform="rotate(192.32)"><use href="#ci" x="1097"/><text class="e" transform="rotate(180)" x="-1148" dy=".35em">AtGATA18</text></g>
<g id="leaf-SmGATA10" transform="rotate(195.45)"><use href="#tri" x="1097"/><text class="e" transform="rotate(180)" x="-1148" dy=".35em">SmGATA10</text></g>
<g id="leaf-SmGATA8" transform="rotate(198.58)"><use href="#tri" x="1097"/><text class="e" transform="rotate(180)" x="-1148" dy=".35em">SmGATA8</text></g>
<g id="leaf-SbGATA12" transform="rotate(201.71)"><use href="#st" x="1097"/><text class="e" transform="rotate(180)" x="-1148" dy=".35em">SbGATA12</text></g>
<g id="leaf-SbGATA29" transform="rotate(204.84)"><use href="#st" x="1097"/><text class="e" transform="rotate(180)" x="-1148" dy=".35em">SbGATA29</text></g>
<g id="leaf-SbGATA30" transform="rotate(207.97)"><use href="#st" x="1097"/><text class="e" transform="rotate(180)" x="-1148" dy=".35em">SbGATA30</text></g>
<g id="leaf-AtGATA20" transform="rotate(211.1)"><use href="#ci" x="1097"/><text class="e" transform="rotate(180)" x="-1148" dy=".35em">AtGATA20</text></g>
<g id="leaf-CmGATA20" transform="rotate(214.23)"><use href="#sq" x="1097"/><text class="e" transform="rotate(180)" x="-1148" dy=".35em">CmGATA20</text></g>
<g id="leaf-AtGATA29" transform="rotate(217.37)"><use href="#ci" x="1097"/><text class="e" transform="rotate(180)" x="-1148" dy=".35em">AtGATA29</text></g>
<g id="leaf-CmGATA13" transform="rotate(220.5)"><use href="#sq" x="1097"/><text class="e" transform="rotate(180)" x="-1148" dy=".35em">CmGATA13</text></g>
<g id="leaf-SbGATA27" transform="rotate(223.63)"><use href="#st" x="1097"/><text class="e" transform="rotate(180)" x="-1148" dy=".35em">SbGATA27</text></g>
<g id="leaf-SbGATA11" transform="rotate(226.76)"><use href="#st" x="1097"/><text class="e" transform="rotate(180)" x="-1148" dy=".35em">SbGATA11</text></g>
<g id="leaf-CmGATA2" transform="rotate(229.89)"><use href="#sq" x="1097"/><text class="e" transform="rotate(180)" x="-1148" dy=".35em">CmGATA2</text></g>
<g id="leaf-SbGATA16" transform="rotate(233.02)"><use href="#st" x="1097"/><text class="e" transform="rotate(180)" x="-1148" dy=".35em">SbGATA16</text></g>
<g id="leaf-SbGATA31" transform="rotate(236.15)"><use href="#st" x="1097"/><text class="e" transform="rotate(180)" x="-1148" dy=".35em">SbGATA31</text></g>
<g id="leaf-SmGATA27" transform="rotate(239.28)"><use href="#tri" x="1097"/><text class="e" transform="rotate(180)" x="-1148" dy=".35em">SmGATA27</text></g>
<g id="leaf-AtGATA21" transform="rotate(242.41)"><use href="#ci" x="1097"/><text class="e" transform="rotate(180)" x="-1148" dy=".35em">AtGATA21</text></g>
<g id="leaf-AtGATA22" transform="rotate(245.54)"><use href="#ci" x="1097"/><text class="e" transform="rotate(180)" x="-1148" dy=".35em">AtGATA22</text></g>
<g id="leaf-CmGATA5" transform="rotate(248.67)"><use href="#sq" x="1097"/><text class="e" transform="rotate(180)" x="-1148" dy=".35em">CmGATA5</text></g>
<g id="leaf-CmGATA17" transform="rotate(251.8)"><use href="#sq" x="1097"/><text class="e" transform="rotate(180)" x="-1148" dy=".35em">CmGATA17</text></g>
<g id="leaf-SmGATA4" transform="rotate(254.93)"><use href="#tri" x="1097"/><text class="e" transform="rotate(180)" x="-1148" dy=".35em">SmGATA4</text></g>
<g id="leaf-SmGATA24" transform="rotate(258.06)"><use href="#tri" x="1097"/><text class="e" transform="rotate(180)" x="-1148" dy=".35em">SmGATA24</text></g>
<g id="leaf-AtGATA23" transform="rotate(261.19)"><use href="#ci" x="1097"/><text class="e" transform="rotate(180)" x="-1148" dy=".35em">AtGATA23</text></g>
<g id="leaf-SbGATA1" transform="rotate(264.32)"><use href="#st" x="1097"/><text class="e" transform="rotate(180)" x="-1148" dy=".35em">SbGATA1</text></g>
<g id="leaf-SbGATA14" transform="rotate(267.45)"><use href="#st" x="1097"/><text class="e" transform="rotate(180)" x="-1148" dy=".35em">SbGATA14</text></g>
<g id="leaf-SmGATA6" transform="rotate(270.58)"><use href="#tri" x="1097"/><text x="1148" dy=".35em">SmGATA6</text></g>
<g id="leaf-AtGATA15" transform="rotate(273.71)"><use href="#ci" x="1097"/><text x="1148" dy=".35em">AtGATA15</text></g>
<g id="leaf-AtGATA16" transform="rotate(276.84)"><use href="#ci" x="1097"/><text x="1148" dy=".35em">AtGATA16</text></g>
<g id="leaf-AtGATA30" transform="rotate(279.98)"><use href="#ci" x="1097"/><text x="1148" dy=".35em">AtGATA30</text></g>
<g id="leaf-AtGATA17" transform="rotate(283.11)"><use href="#ci" x="1097"/><text x="1148" dy=".35em">AtGATA17</text></g>
<g id="leaf-CmGATA15" transform="rotate(286.24)"><use href="#sq" x="1097"/><text x="1148" dy=".35em">CmGATA15</text></g>
<g id="leaf-SmGATA16" transform="rotate(289.37)"><use href="#tri" x="1097"/><text x="1148" dy=".35em">SmGATA16</text></g>
<g id="leaf-SmGATA18" transform="rotate(292.5)"><use href="#tri" x="1097"/><text x="1148" dy=".35em">SmGATA18</text></g>
<g id="leaf-CmGATA24" transform="rotate(295.63)"><use href="#sq" x="1097"/><text x="1148" dy=".35em">CmGATA24</text></g>
<g id="leaf-SbGATA6" transform="rotate(298.76)"><use href="#st" x="1097"/><text x="1148" dy=".35em">SbGATA6</text></g>
<g id="leaf-SbGATA10" transform="rotate(301.89)"><use href="#st" x="1097"/><text x="1148" dy=".35em">SbGATA10</text></g>
<g id="leaf-SbGATA20" transform="rotate(305.02)"><use href="#st" x="1097"/><text x="1148" dy=".35em">SbGATA20</text></g>
<g id="leaf-SbGATA8" transform="rotate(308.15)"><use href="#st" x="1097"/><text x="1148" dy=".35em">SbGATA8</text></g>
<g id="leaf-SmGATA14" transform="rotate(311.28)"><use href="#tri" x="1097"/><text x="1148" dy=".35em">SmGATA14</text></g>
<g id="leaf-SmGATA28" transform="rotate(314.41)"><use href="#tri" x="1097"/><text x="1148" dy=".35em">SmGATA28</text></g>
<g id="leaf-SmGATA2" transform="rotate(317.54)"><use href="#tri" x="1097"/><text x="1148" dy=".35em">SmGATA2</text></g>
<g id="leaf-CmGATA1" transform="rotate(320.67)"><use href="#sq" x="1097"/><text x="1148" dy=".35em">CmGATA1</text></g>
<g id="leaf-AtGATA25" transform="rotate(323.8)"><use href="#ci" x="1097"/><text x="1148" dy=".35em">AtGATA25</text></g>
<g id="leaf-CmGATA7" transform="rotate(326.93)"><use href="#sq" x="1097"/><text x="1148" dy=".35em">CmGATA7</text></g>
<g id="leaf-SbGATA4" transform="rotate(330.06)"><use href="#st" x="1097"/><text x="1148" dy=".35em">SbGATA4</text></g>
<g id="leaf-CmGATA8" transform="rotate(333.19)"><use href="#sq" x="1097"/><text x="1148" dy=".35em">CmGATA8</text></g>
<g id="leaf-SbGATA3" transform="rotate(336.32)"><use href="#st" x="1097"/><text x="1148" dy=".35em">SbGATA3</text></g>
<g id="leaf-SmGATA3" transform="rotate(339.45)"><use href="#tri" x="1097"/><text x="1148" dy=".35em">SmGATA3</text></g>
<g id="leaf-SbGATA32" transform="rotate(342.59)"><use href="#st" x="1097"/><text x="1148" dy=".35em">SbGATA32</text></g>
<g id="leaf-AtGATA28" transform="rotate(345.72)"><use href="#ci" x="1097"/><text x="1148" dy=".35em">AtGATA28</text></g>
<g id="leaf-AtGATA24" transform="rotate(348.85)"><use href="#ci" x="1097"/><text x="1148" dy=".35em">AtGATA24</text></g>
<g id="leaf-CmGATA3" transform="rotate(351.98)"><use href="#sq" x="1097"/><text x="1148" dy=".35em">CmGATA3</text></g>
</g>
</g>
<g id="legend">
<use href="#tri" x="2708" y="2813"/>
<use href="#ci" x="2705" y="2884" transform="translate(2705 2884) scale(1.05) translate(-2705 -2884)"/>
<use href="#st" x="2708" y="2963"/>
<use href="#sq" x="2708" y="3040"/>
<text class="lg" x="2770" y="2822">Solanum melongena</text>
<text class="lg" x="2770" y="2898">Arabidopsis thaliana</text>
<text class="lg" x="2770" y="2975">Sorghum bicolor</text>
<text class="lg" x="2770" y="3053">Cucumis melo</text>
</g>
</svg>
